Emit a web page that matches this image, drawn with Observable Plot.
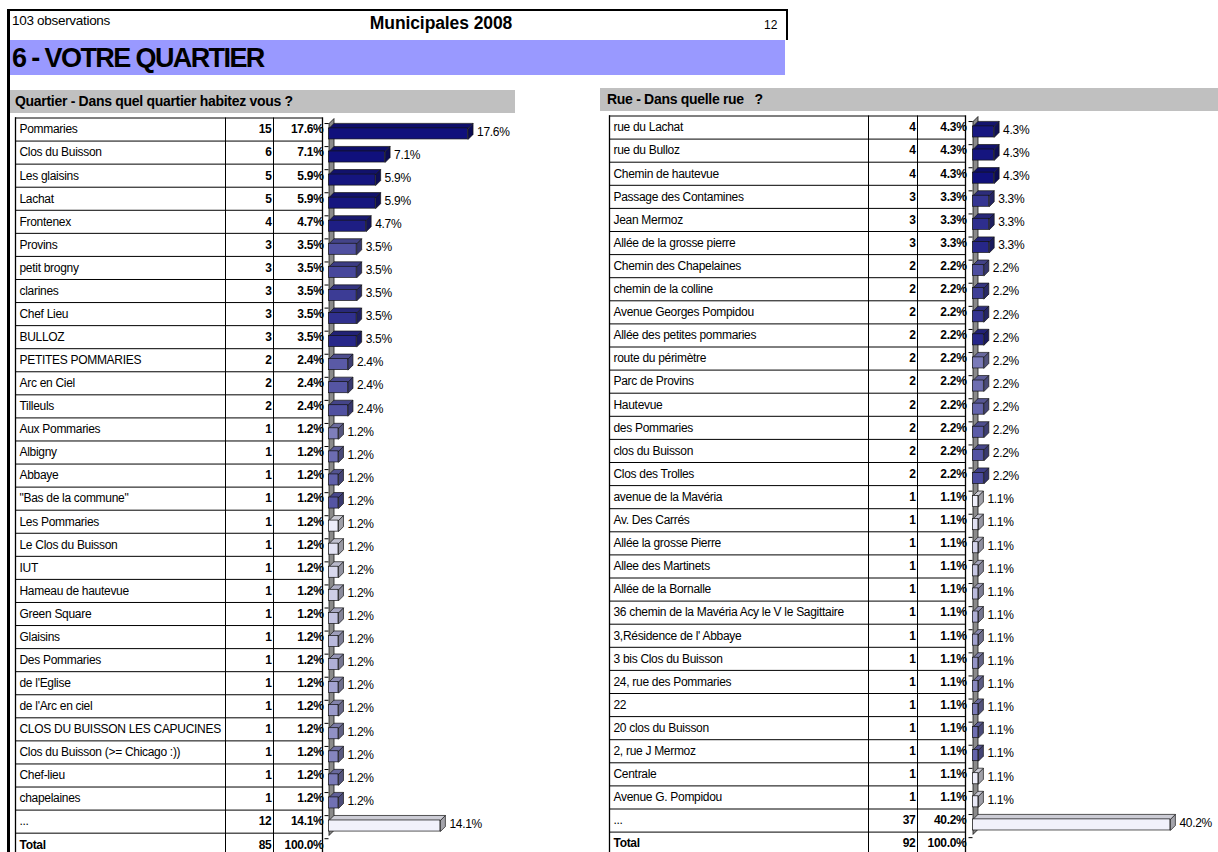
<!DOCTYPE html>
<html>
<head>
<meta charset="utf-8">
<script src="https://cdn.jsdelivr.net/npm/d3@7"></script>
<script src="https://cdn.jsdelivr.net/npm/@observablehq/plot@0.6"></script>
<style>
  html, body { margin: 0; padding: 0; background: #fff; }
  #page { position: relative; width: 1218px; height: 852px; overflow: hidden; background: #fff;
          font-family: "Liberation Sans", Arial, sans-serif; color: #000; }
  .abs { position: absolute; white-space: nowrap; }
  .line { position: absolute; background: #000; }
  #left, #right { position: absolute; top: 0; }
  #left { left: 0; } #right { left: 600px; }
</style>
</head>
<body>
<div id="page">
  <div class="line" style="left:8px;top:9px;width:780px;height:2px"></div>
  <div class="line" style="left:7px;top:9px;width:3px;height:843px"></div>
  <div class="line" style="left:786px;top:9px;width:2px;height:31px"></div>

  <div class="abs" style="left:12px;top:13px;font-size:13.5px;line-height:16px;letter-spacing:-0.3px">103 observations</div>
  <div class="abs" style="left:341px;top:14px;width:200px;text-align:center;font-size:17.5px;line-height:18px;font-weight:bold;letter-spacing:-0.1px">Municipales 2008</div>
  <div class="abs" style="left:764px;top:17px;font-size:12px;line-height:16px">12</div>

  <div class="abs" style="left:10px;top:40px;width:775px;height:35px;background:#9999ff"></div>
  <div class="abs" style="left:12px;top:40px;font-size:27px;line-height:36px;font-weight:bold;letter-spacing:-1.6px">6 - VOTRE QUARTIER</div>

  <div class="abs" style="left:10px;top:90px;width:505px;height:23px;background:#c0c0c0"></div>
  <div class="abs" style="left:15px;top:90px;font-size:14px;line-height:23px;font-weight:bold;letter-spacing:-0.3px">Quartier - Dans quel quartier habitez vous ?</div>
  <div class="abs" style="left:600px;top:88px;width:618px;height:23px;background:#c0c0c0"></div>
  <div class="abs" style="left:607px;top:88px;font-size:14px;line-height:23px;font-weight:bold;letter-spacing:-0.3px;white-space:pre">Rue - Dans quelle rue   ?</div>

  <div id="left"></div>
  <div id="right"></div>
</div>
<script>
// ---------- data ----------
const quartierLabels = ["Pommaries","Clos du Buisson","Les glaisins","Lachat","Frontenex","Provins","petit brogny","clarines","Chef Lieu","BULLOZ","PETITES POMMARIES","Arc en Ciel","Tilleuls","Aux Pommaries","Albigny","Abbaye","\"Bas de la commune\"","Les Pommaries","Le Clos du Buisson","IUT","Hameau de hautevue","Green Square","Glaisins","Des Pommaries","de l'Eglise","de l'Arc en ciel","CLOS DU BUISSON LES CAPUCINES","Clos du Buisson (>= Chicago :))","Chef-lieu","chapelaines","..."];
const quartierCounts = [15,6,5,5,4,3,3,3,3,3,2,2,2,1,1,1,1,1,1,1,1,1,1,1,1,1,1,1,1,1,12];
const quartierPcts = [17.6,7.1,5.9,5.9,4.7,3.5,3.5,3.5,3.5,3.5,2.4,2.4,2.4,1.2,1.2,1.2,1.2,1.2,1.2,1.2,1.2,1.2,1.2,1.2,1.2,1.2,1.2,1.2,1.2,1.2,14.1];
const quartierTotal = 85;

const rueLabels = ["rue du Lachat","rue du Bulloz","Chemin de hautevue","Passage des Contamines","Jean Mermoz","Allée de la grosse pierre","Chemin des Chapelaines","chemin de la colline","Avenue Georges Pompidou","Allée des petites pommaries","route du périmètre","Parc de Provins","Hautevue","des Pommaries","clos du Buisson","Clos des Trolles","avenue de la Mavéria","Av. Des Carrés","Allée la grosse Pierre","Allee des Martinets","Allée de la Bornalle","36 chemin de la Mavéria Acy le V le Sagittaire","3,Résidence de l' Abbaye","3 bis Clos du Buisson","24, rue des Pommaries","22","20 clos du Buisson","2, rue J Mermoz","Centrale","Avenue G. Pompidou","..."];
const rueCounts = [4,4,4,3,3,3,2,2,2,2,2,2,2,2,2,2,1,1,1,1,1,1,1,1,1,1,1,1,1,1,37];
const ruePcts = [4.3,4.3,4.3,3.3,3.3,3.3,2.2,2.2,2.2,2.2,2.2,2.2,2.2,2.2,2.2,2.2,1.1,1.1,1.1,1.1,1.1,1.1,1.1,1.1,1.1,1.1,1.1,1.1,1.1,1.1,40.2];
const rueTotal = 92;

// ---------- style: bar shade (0 = navy, 1 = white) ----------
const quartierShades = [0,0,0.02,0.02,0.06,0.28,0.24,0.19,0.14,0.1,0.32,0.3,0.28,0.48,0.4,0.35,0.3,
  0.96,0.915,0.87,0.825,0.78,0.735,0.69,0.645,0.6,0.555,0.51,0.465,0.42,0.98];
const rueShades = [0.03,0.02,0,0.16,0.13,0.1,0.27,0.2,0.16,0.1,0.46,0.41,0.37,0.33,0.29,0.25,
  0.96,0.905,0.85,0.795,0.74,0.685,0.63,0.575,0.52,0.465,0.41,0.36,0.96,0.94,0.98];

const shade = d3.interpolateRgb("#10107c", "#f6f6fe");
const fmt = v => v.toFixed(1) + "%";
const FONT = "Liberation Sans, Arial, sans-serif";

function sidePlot({labels, counts, pcts, total, shades, L}) {
  const rows = labels.map((label, i) => ({i, label, count: counts[i], pct: pcts[i], color: shade(shades[i])}));
  const totalRow = [{i: rows.length, label: "Total", count: total, pct: 100}];
  const all = rows.concat(totalRow);
  const nRows = all.length;
  const A = 0.45, B = 0.93;                 // face band inside a row
  const depth = 5;
  const dX = depth / L.k, dY = depth / L.rh; // 3D depth in data units
  const poly = (id, pts, fill) => pts.concat([pts[0]]).map(([x, y]) => ({id, x, y, fill}));
  const tops = rows.flatMap(d => poly(d.i, [[0, d.i + A], [d.pct, d.i + A], [d.pct + dX, d.i + A - dY], [dX, d.i + A - dY]],
      d3.color(d.color).darker(0.45).formatHex()));
  const sides = rows.flatMap(d => poly(d.i, [[d.pct, d.i + A], [d.pct + dX, d.i + A - dY], [d.pct + dX, d.i + B - dY], [d.pct, d.i + B]],
      d3.color(d.color).darker(1.1).formatHex()));
  const wTop = 0.24, wBot = rows.length + 0.1;
  const wall = poly(0, [[0, wTop], [dX, wTop - dY], [dX, wBot - dY], [0, wBot]], "#8a8a8a");
  const tickLen = 4 / L.k;
  const stroke = "#141414";
  const cellText = (data, extra) => Plot.text(data, {y: d => d.i + 0.5, frameAnchor: "left", fontSize: 12, fontFamily: FONT, fill: "#000", ...extra});

  return Plot.plot({
    width: L.width, height: 852,
    marginLeft: L.tableLeft, marginRight: L.width - L.tableRight,
    marginTop: L.top, marginBottom: 0,
    style: {background: "transparent", overflow: "visible", fontFamily: FONT, letterSpacing: "-0.3px"},
    x: {domain: [0, L.max], range: [L.x0, L.x0 + L.max * L.k], axis: null},
    y: {domain: [0, nRows], range: [L.top, L.top + nRows * L.rh], axis: null},
    color: {type: "identity"},
    marks: [
      // table grid
      Plot.ruleY(d3.range(nRows), {y: d => d, stroke: "#000", strokeWidth: 1}),
      Plot.frame({anchor: "left", stroke: "#000", strokeWidth: 1.3}),
      Plot.frame({anchor: "left", dx: L.col1 - L.tableLeft, stroke: "#000", strokeWidth: 1}),
      Plot.frame({anchor: "left", dx: L.col2 - L.tableLeft, stroke: "#000", strokeWidth: 1}),
      Plot.frame({anchor: "right", stroke: "#000", strokeWidth: 1.3}),
      // table text
      cellText(rows, {text: "label", textAnchor: "start", dx: 4}),
      cellText(totalRow, {text: "label", textAnchor: "start", dx: 4, fontWeight: "bold"}),
      cellText(all, {text: "count", textAnchor: "end", dx: L.col2 - L.tableLeft - 2, fontWeight: "bold"}),
      cellText(all, {text: d => fmt(d.pct), textAnchor: "end", dx: L.tableRight - L.tableLeft + 1, fontWeight: "bold"}),
      // 3D chart: wall, ticks, bars
      Plot.line(wall, {x: "x", y: "y", z: "id", fill: "fill", stroke, strokeWidth: 0.8, curve: "linear"}),
      Plot.ruleY(d3.range(nRows), {y: d => d + wTop, x1: -tickLen, x2: 0, stroke: "#000", strokeWidth: 1}),
      Plot.line(sides, {x: "x", y: "y", z: "id", fill: "fill", stroke, strokeWidth: 0.7, curve: "linear"}),
      Plot.line(tops, {x: "x", y: "y", z: "id", fill: "fill", stroke, strokeWidth: 0.7, curve: "linear"}),
      Plot.rect(rows, {x1: 0, x2: "pct", y1: d => d.i + A, y2: d => d.i + B, fill: "color", stroke, strokeWidth: 0.7}),
      Plot.text(rows, {x: "pct", y: d => d.i + 0.6, text: d => fmt(d.pct), textAnchor: "start", dx: 9,
        fontSize: 12, fontFamily: FONT, fill: "#000"})
    ]
  });
}

document.getElementById("left").append(sidePlot({
  labels: quartierLabels, counts: quartierCounts, pcts: quartierPcts, total: quartierTotal, shades: quartierShades,
  L: {width: 600, tableLeft: 15, col1: 225, col2: 273, tableRight: 322, top: 117.5, rh: 23.07, x0: 328.5, k: 7.9, max: 17.6}
}));
document.getElementById("right").append(sidePlot({
  labels: rueLabels, counts: rueCounts, pcts: ruePcts, total: rueTotal, shades: rueShades,
  L: {width: 618, tableLeft: 9, col1: 268, col2: 317, tableRight: 365, top: 115.5, rh: 23.1, x0: 372.5, k: 4.91, max: 40.2}
}));
</script>
</body>
</html>
